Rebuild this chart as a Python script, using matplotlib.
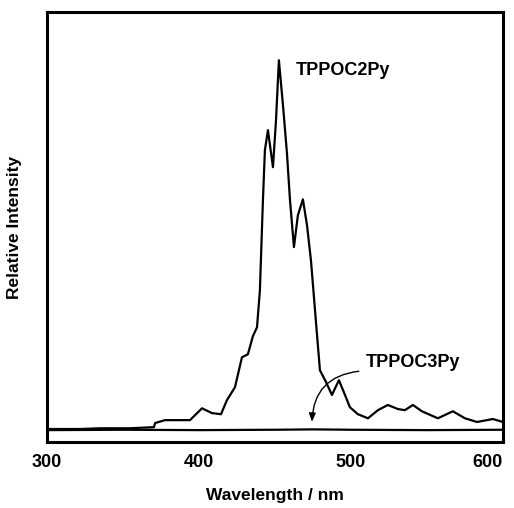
import numpy as np
import matplotlib.pyplot as plt
from matplotlib.patches import FancyArrowPatch

plt.rcParams['font.family'] = ['Liberation Sans', 'DejaVu Sans']
plt.rcParams['font.weight'] = 'bold'

# TPPOC2Py emission spectrum
wl_2py = [300.0, 321.7, 334.9, 354.6, 370.4, 371.1, 377.6, 390.8, 394.1, 402.0,
          408.6, 414.5, 418.4, 423.7, 428.3, 432.2, 435.5, 438.2, 440.1, 442.1,
          443.4, 445.4, 448.7, 450.7, 452.6, 455.3, 457.9, 459.9, 462.5, 465.1,
          468.4, 471.1, 473.7, 477.6, 479.6, 483.6, 487.5, 492.1, 496.1, 499.3,
          504.6, 511.2, 517.8, 524.3, 530.9, 535.5, 540.8, 546.7, 557.2, 567.1,
          575.0, 582.9, 593.4, 600.0]
int_2py = [0.3, 0.3, 0.5, 0.5, 0.8, 1.9, 2.7, 2.7, 2.7, 5.9,
           4.6, 4.3, 8.1, 11.6, 19.7, 20.5, 25.4, 27.8, 37.8, 62.2,
           75.7, 81.1, 71.1, 83.8, 100.0, 87.8, 74.9, 62.2, 49.5, 58.1,
           62.4, 55.4, 45.9, 26.2, 16.2, 13.0, 9.5, 13.5, 9.5, 6.2,
           4.3, 3.2, 5.4, 6.8, 5.7, 5.4, 6.8, 5.1, 3.2, 5.1,
           3.2, 2.2, 3.0, 2.2]

# TPPOC3Py: essentially flat
wl_3py = [300, 350, 400, 450, 475, 500, 550, 600]
int_3py = [0.0, 0.1, 0.0, 0.1, 0.2, 0.1, 0.0, 0.1]

xticks = [300, 400, 500, 600]

fig = plt.figure(figsize=(5.14, 5.08), dpi=100)
ax = fig.add_axes([0.0914, 0.130, 0.887, 0.846])

ax.plot(wl_2py, int_2py, color='black', lw=1.6)
ax.plot(wl_3py, int_3py, color='black', lw=1.6)

ax.set_xlim(300, 600)
ax.set_ylim(-3.2, 113)
ax.set_xticks(xticks)
ax.set_yticks([])
ax.tick_params(axis='x', length=0, pad=9, labelsize=13)
labels = ax.get_xticklabels()
labels[-1].set_ha('right')
for s in ax.spines.values():
    s.set_linewidth(2.2)

ax.set_xlabel('Wavelength / nm', fontsize=12.5, fontweight='bold', labelpad=12)
ax.set_ylabel('Relative Intensity', fontsize=12.5, fontweight='bold', labelpad=18)

ax.text(463.5, 97.3, 'TPPOC2Py', fontsize=13, fontweight='bold', va='center', ha='left')
ax.text(509.5, 18.4, 'TPPOC3Py', fontsize=13, fontweight='bold', va='center', ha='left')

arr = FancyArrowPatch((507, 16.0), (474.3, 1.5), connectionstyle='arc3,rad=0.45',
                      arrowstyle='-|>,head_length=5,head_width=2', color='black', lw=1.0)
ax.add_patch(arr)

fig.savefig('out.png', dpi=100)
